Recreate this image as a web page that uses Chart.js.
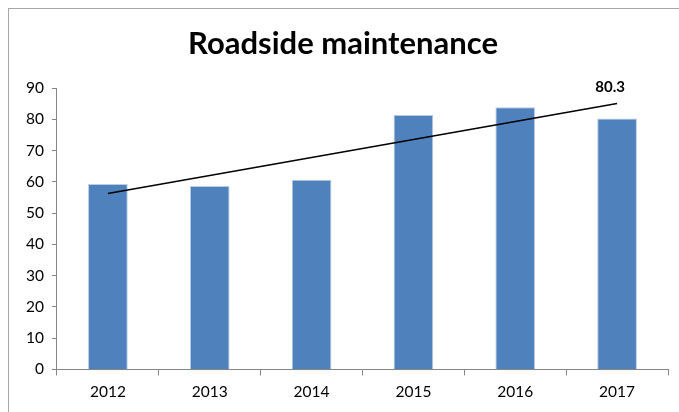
<!doctype html>
<html>
<head>
	<title>Roadside maintenance</title>
	<meta charset=utf-8>
	<script src="https://cdn.jsdelivr.net/npm/chart.js@4/dist/chart.umd.min.js"></script>
	<style>
		html, body { margin: 0; padding: 0; background: #fff; overflow: hidden; }
		#frame { position: absolute; left: 8px; top: 8px; width: 700px; height: 430px;
			border-left: 1px solid #a6a6a6; border-top: 1px solid #a6a6a6; }
		#holder { position: absolute; left: 0; top: 0; width: 679px; height: 412px; }
	</style>
</head>
<body>
	<div id="frame"></div>
	<div id="holder"><canvas id="chart"></canvas></div>
	<script>
		var years = ['2012', '2013', '2014', '2015', '2016', '2017'];
		var values = [59.3, 58.7, 60.7, 81.4, 83.9, 80.3];
		// trendline: start and end values
		var trend = [56.3, null, null, null, null, 85.1];
		var trendLabel = '80.3';

		var fontFam = 'Lato, "Open Sans", sans-serif';

		var labelPlugin = {
			id: 'trendLabel',
			afterDatasetsDraw: function(chart) {
				var meta = chart.getDatasetMeta(1);
				var pt = meta.data[meta.data.length - 1];
				var ctx = chart.ctx;
				ctx.save();
				ctx.font = 'bold 15px ' + fontFam;
				ctx.fillStyle = '#000';
				ctx.textAlign = 'center';
				ctx.textBaseline = 'middle';
				ctx.fillText(trendLabel, pt.x - 7, pt.y - 16);
				ctx.restore();
			}
		};

		var config = {
			data: {
				labels: years,
				datasets: [{
					type: 'bar',
					data: values,
					backgroundColor: '#4f81bd',
					borderColor: '#b9cde5',
					borderWidth: { left: 1, right: 1, top: 1, bottom: 0 },
					barPercentage: 0.39,
					categoryPercentage: 1,
					order: 2
				}, {
					type: 'line',
					data: trend,
					spanGaps: true,
					borderColor: '#000',
					borderWidth: 1.3,
					pointRadius: 0,
					fill: false,
					order: 1
				}]
			},
			options: {
				responsive: true,
				maintainAspectRatio: false,
				animation: false,
				layout: { padding: { left: 18, right: 11, top: 0, bottom: 4 } },
				plugins: {
					legend: { display: false },
					tooltip: { enabled: false },
					title: {
						display: true,
						text: 'Roadside maintenance',
						color: '#000',
						font: { family: fontFam, size: 31, weight: 'bold' },
						padding: { top: 25, bottom: 26 }
					}
				},
				scales: {
					x: {
						grid: { display: true, drawOnChartArea: false, offset: true, color: '#868686', tickLength: 6 },
						border: { color: '#868686' },
						ticks: { color: '#000', font: { family: fontFam, size: 15.5 }, padding: 7 }
					},
					y: {
						min: 0, max: 90,
						grid: { display: true, drawOnChartArea: false, color: '#868686', tickLength: 5 },
						border: { color: '#868686' },
						ticks: { stepSize: 10, color: '#000', font: { family: fontFam, size: 15.5 }, padding: 8 }
					}
				}
			},
			plugins: [labelPlugin]
		};

		new Chart(document.getElementById('chart').getContext('2d'), config);
	</script>
</body>
</html>
